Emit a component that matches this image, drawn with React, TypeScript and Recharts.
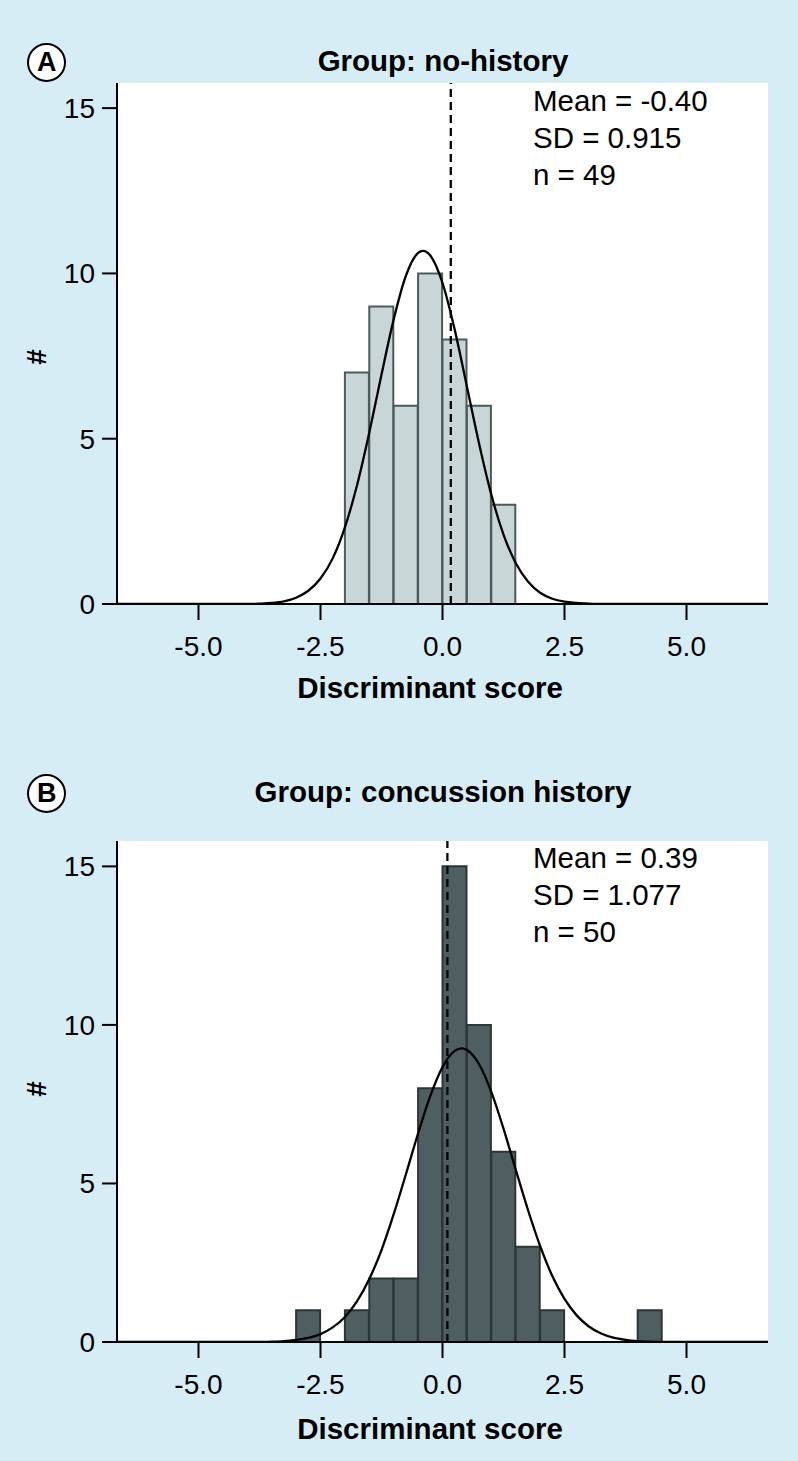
import React from 'react';
import { ComposedChart, Bar, Line, XAxis, YAxis, CartesianGrid, ReferenceLine } from 'recharts';

// Group A: no-history (bin centres, width 0.5)
const binsA = [-1.75, -1.25, -0.75, -0.25, 0.25, 0.75, 1.25];
const countsA = [7, 9, 6, 10, 8, 6, 3];
const curveXA = [-6.67, -4.0, -3.75, -3.5, -3.25, -3.0, -2.75, -2.5, -2.25, -2.0, -1.75, -1.5, -1.25, -1.0, -0.75, -0.5, -0.4, -0.25, 0, 0.25, 0.5, 0.75, 1.0, 1.25, 1.5, 1.75, 2.0, 2.25, 2.5, 2.75, 3.0, 3.25, 6.67];
const curveYA = [0, 0, 0.01, 0.03, 0.08, 0.19, 0.4, 0.77, 1.38, 2.32, 3.6, 5.19, 6.94, 8.61, 9.93, 10.62, 10.68, 10.54, 9.71, 8.3, 6.58, 4.85, 3.31, 2.1, 1.24, 0.68, 0.34, 0.16, 0.07, 0.03, 0.01, 0, 0];
const cutoffA = 0.17;
const statsA = ['Mean = -0.40', 'SD = 0.915', 'n = 49'];

// Group B: concussion history
const binsB = [-2.75, -2.25, -1.75, -1.25, -0.75, -0.25, 0.25, 0.75, 1.25, 1.75, 2.25, 2.75, 3.25, 3.75, 4.25];
const countsB = [1, 0, 1, 2, 2, 8, 15, 10, 6, 3, 1, 0, 0, 0, 1];
const curveXB = [-6.67, -3.75, -3.5, -3.25, -3.0, -2.75, -2.5, -2.25, -2.0, -1.75, -1.5, -1.25, -1.0, -0.75, -0.5, -0.25, 0, 0.25, 0.39, 0.5, 0.75, 1.0, 1.25, 1.5, 1.75, 2.0, 2.25, 2.5, 2.75, 3.0, 3.25, 3.5, 3.75, 4.0, 4.25, 4.5, 6.67];
const curveYB = [0, 0, 0.01, 0.03, 0.07, 0.13, 0.25, 0.46, 0.79, 1.29, 1.99, 2.9, 4.03, 5.29, 6.58, 7.76, 8.67, 9.18, 9.26, 9.21, 8.76, 7.89, 6.73, 5.44, 4.17, 3.03, 2.08, 1.36, 0.84, 0.49, 0.27, 0.14, 0.07, 0.03, 0.01, 0, 0];
const cutoffB = 0.1;
const statsB = ['Mean = 0.39', 'SD = 1.077', 'n = 50'];

const xTicks = [-5, -2.5, 0, 2.5, 5];
const yTicks = [0, 5, 10, 15];
const X_MIN = -6.67;
const X_MAX = 6.67;

const FONT = '"Liberation Sans", Arial, Helvetica, sans-serif';
const BG = '#d6edf5';

interface PanelProps {
  top: number;
  height: number;
  marginTop: number;
  xAxisHeight: number;
  yMax: number;
  bins: number[];
  counts: number[];
  curveX: number[];
  curveY: number[];
  cutoff: number;
  fill: string;
  stroke: string;
}

const HistPanel: React.FC<PanelProps> = (p) => {
  const histData = p.bins.map((x, i) => ({ x, count: p.counts[i] }));
  const fitData = p.curveX.map((x, i) => ({ x, fit: p.curveY[i] }));
  const tickStyle = { fill: '#000', fontSize: 28, fontFamily: FONT };
  const axisStroke = { stroke: '#000', strokeWidth: 2 };

  return (
    <div style={{ position: 'absolute', left: 0, top: p.top }}>
      <ComposedChart
        width={798}
        height={p.height}
        data={histData}
        barCategoryGap={0}
        margin={{ top: p.marginTop, right: 30, bottom: 0, left: 0 }}
      >
        <CartesianGrid horizontal={false} vertical={false} fill="#ffffff" stroke="none" />
        <XAxis
          xAxisId="hist"
          dataKey="x"
          type="number"
          domain={[X_MIN, X_MAX]}
          allowDataOverflow
          hide
        />
        <XAxis
          dataKey="x"
          type="number"
          domain={[X_MIN, X_MAX]}
          allowDataOverflow
          ticks={xTicks}
          interval={0}
          tickFormatter={(v: number) => v.toFixed(1)}
          height={p.xAxisHeight}
          tickSize={16}
          tickMargin={16}
          axisLine={axisStroke}
          tickLine={axisStroke}
          tick={tickStyle}
        />
        <YAxis
          type="number"
          domain={[0, p.yMax]}
          allowDataOverflow
          ticks={yTicks}
          interval={0}
          width={117}
          tickSize={15}
          tickMargin={7}
          axisLine={axisStroke}
          tickLine={axisStroke}
          tick={tickStyle}
        />
        <Bar
          xAxisId="hist"
          dataKey="count"
          fill={p.fill}
          stroke={p.stroke}
          strokeWidth={2}
          isAnimationActive={false}
        />
        <Line
          data={fitData}
          dataKey="fit"
          type="monotone"
          stroke="#000"
          strokeWidth={2.3}
          dot={false}
          activeDot={false}
          isAnimationActive={false}
        />
        <ReferenceLine x={p.cutoff} stroke="#000" strokeWidth={2.3} strokeDasharray="8 5" />
      </ComposedChart>
    </div>
  );
};

const PanelBadge = ({ letter, cx, cy }: { letter: string; cx: number; cy: number }) => (
  <div
    style={{
      position: 'absolute',
      left: cx - 19.5,
      top: cy - 19.5,
      width: 39,
      height: 39,
      boxSizing: 'border-box',
      border: '2.5px solid #000',
      borderRadius: '50%',
      background: '#fff',
      display: 'flex',
      alignItems: 'center',
      justifyContent: 'center',
      fontFamily: FONT,
      fontWeight: 700,
      fontSize: 27,
      lineHeight: 1,
    }}
  >
    {letter}
  </div>
);

// text helpers: cy is where the middle of the capitals should sit
const Caption = ({ text, cx, cy, size = 29.5 }: { text: string; cx: number; cy: number; size?: number }) => (
  <div
    style={{
      position: 'absolute',
      left: cx,
      top: cy - 0.488 * size,
      transform: 'translateX(-50%)',
      whiteSpace: 'nowrap',
      fontFamily: FONT,
      fontWeight: 700,
      fontSize: size,
      lineHeight: `${size}px`,
      color: '#000',
    }}
  >
    {text}
  </div>
);

const Stats = ({ lines, left, cy }: { lines: string[]; left: number; cy: number }) => (
  <div
    style={{
      position: 'absolute',
      left,
      top: cy - 18.4,
      fontFamily: FONT,
      fontSize: 29.5,
      lineHeight: '37.2px',
      color: '#000',
      whiteSpace: 'nowrap',
    }}
  >
    {lines.map((l) => (
      <div key={l}>{l}</div>
    ))}
  </div>
);

const Hash = ({ cx, cy }: { cx: number; cy: number }) => (
  <div
    style={{
      position: 'absolute',
      left: cx,
      top: cy,
      transform: 'translate(-50%, -50%) rotate(-90deg)',
      fontFamily: FONT,
      fontWeight: 700,
      fontSize: 28,
      lineHeight: 1,
    }}
  >
    #
  </div>
);

export default function App() {
  return (
    <div
      style={{
        position: 'absolute',
        left: 0,
        top: 0,
        width: 798,
        height: 1461,
        background: BG,
        overflow: 'hidden',
      }}
    >
      <HistPanel
        top={0}
        height={720}
        marginTop={83}
        xAxisHeight={116}
        yMax={15.76}
        bins={binsA}
        counts={countsA}
        curveX={curveXA}
        curveY={curveYA}
        cutoff={cutoffA}
        fill="#c9d6d8"
        stroke="#4c5a5d"
      />
      <HistPanel
        top={720}
        height={741}
        marginTop={121}
        xAxisHeight={119}
        yMax={15.8}
        bins={binsB}
        counts={countsB}
        curveX={curveXB}
        curveY={curveYB}
        cutoff={cutoffB}
        fill="#4e5e61"
        stroke="#2c3638"
      />

      <PanelBadge letter="A" cx={46.7} cy={62.7} />
      <Caption text="Group: no-history" cx={443} cy={60.7} />
      <Stats lines={statsA} left={533} cy={100.3} />
      <Hash cx={36.7} cy={357.3} />
      <Caption text="Discriminant score" cx={430} cy={687.7} />

      <PanelBadge letter="B" cx={46.7} cy={793.3} />
      <Caption text="Group: concussion history" cx={443} cy={791.7} />
      <Stats lines={statsB} left={533} cy={857} />
      <Hash cx={36.7} cy={1089} />
      <Caption text="Discriminant score" cx={430} cy={1428.3} />
    </div>
  );
}
